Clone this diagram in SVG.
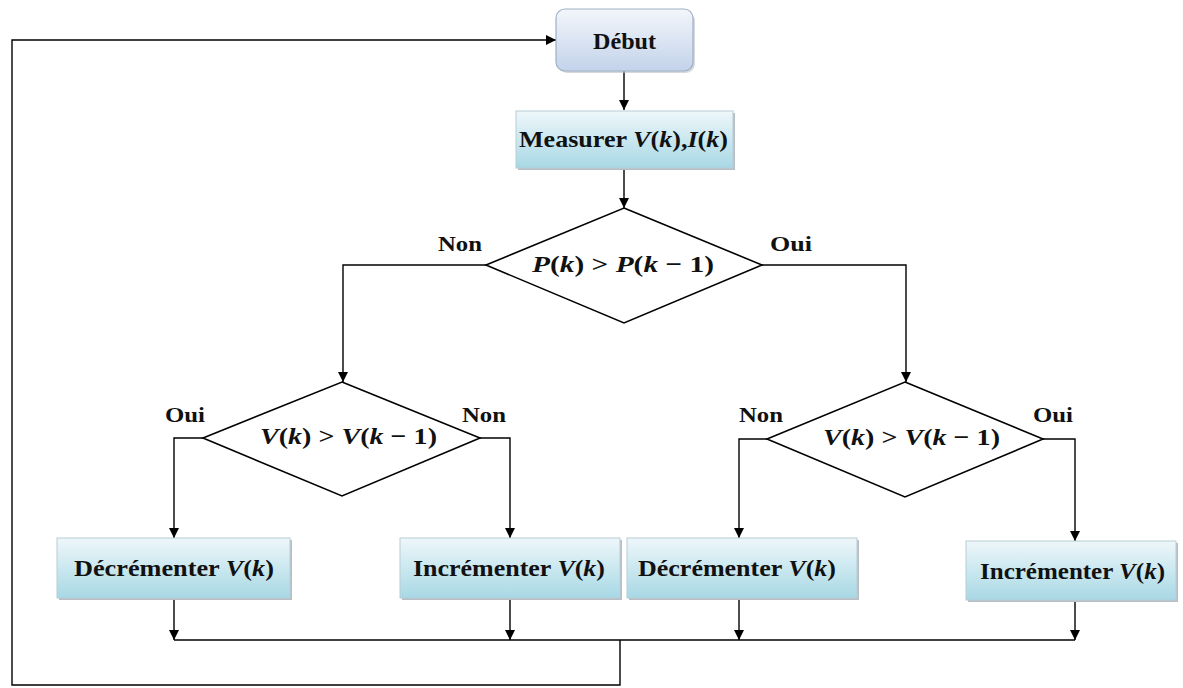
<svg xmlns="http://www.w3.org/2000/svg" width="1183" height="688" viewBox="0 0 1183 688">
  <defs>
    <linearGradient id="gStart" x1="0" y1="0" x2="0" y2="1">
      <stop offset="0" stop-color="#f3f6fb"/>
      <stop offset="1" stop-color="#c3d3ea"/>
    </linearGradient>
    <linearGradient id="gBox" x1="0" y1="0" x2="0" y2="1">
      <stop offset="0" stop-color="#eef7fa"/>
      <stop offset="1" stop-color="#a8d8e5"/>
    </linearGradient>
    <marker id="arrow" viewBox="0 0 10 10" refX="10" refY="5" markerWidth="10" markerHeight="11" markerUnits="userSpaceOnUse" orient="auto">
      <path d="M0,0 L10,5 L0,10 z" fill="#000"/>
    </marker>
  </defs>
  <style>
    text { font-family: 'Liberation Serif', 'DejaVu Serif', serif; font-weight: bold; font-size: 24px; fill: #111; }
    .m { font-style: italic; }
    .lbl { font-size: 21px; }
    .shadow { fill: #b9bec4; }
    .box { fill: url(#gBox); stroke: #b7cdd6; stroke-width: 1; }
    .start { fill: url(#gStart); stroke: #9fb0c6; stroke-width: 1.2; }
    .dia { fill: #fff; stroke: #000; stroke-width: 1.6; }
    .con { fill: none; stroke: #000; stroke-width: 1.4; }
  </style>
  <rect width="1183" height="688" fill="#fff"/>

  <!-- connectors -->
  <g id="connectors">
    <path class="con" d="M624,71 V110" marker-end="url(#arrow)"/>
    <path class="con" d="M624,168 V208" marker-end="url(#arrow)"/>
    <path class="con" d="M486,265 H343 V382" marker-end="url(#arrow)"/>
    <path class="con" d="M762,265 H906 V382" marker-end="url(#arrow)"/>
    <path class="con" d="M203,438 H174 V538" marker-end="url(#arrow)"/>
    <path class="con" d="M480,438 H510 V538" marker-end="url(#arrow)"/>
    <path class="con" d="M767,439 H739 V538" marker-end="url(#arrow)"/>
    <path class="con" d="M1043,439 H1075 V541" marker-end="url(#arrow)"/>
    <path class="con" d="M174,599 V640" marker-end="url(#arrow)"/>
    <path class="con" d="M510,599 V640" marker-end="url(#arrow)"/>
    <path class="con" d="M739,599 V640" marker-end="url(#arrow)"/>
    <path class="con" d="M1075,601 V640" marker-end="url(#arrow)"/>
    <path class="con" d="M174,640 H1075"/>
    <path class="con" d="M620,640 V685 H12 V40 H556" marker-end="url(#arrow)"/>
    <text class="lbl" x="438" y="251" textLength="44" lengthAdjust="spacingAndGlyphs">Non</text>
    <text class="lbl" x="770" y="251" textLength="42" lengthAdjust="spacingAndGlyphs">Oui</text>
    <text class="lbl" x="165" y="422" textLength="40" lengthAdjust="spacingAndGlyphs">Oui</text>
    <text class="lbl" x="462" y="422" textLength="44" lengthAdjust="spacingAndGlyphs">Non</text>
    <text class="lbl" x="739" y="422" textLength="44" lengthAdjust="spacingAndGlyphs">Non</text>
    <text class="lbl" x="1033" y="422" textLength="40" lengthAdjust="spacingAndGlyphs">Oui</text>
  </g>

  <g id="debut">
    <rect class="shadow" x="558" y="12" width="137" height="61" rx="9" opacity="0.6"/>
    <rect class="start" x="556" y="9" width="137" height="62" rx="9"/>
    <text x="593" y="49" textLength="63" lengthAdjust="spacingAndGlyphs">Début</text>
  </g>

  <g id="measurer">
    <rect class="shadow" x="518" y="113" width="217" height="57"/>
    <rect class="box" x="516" y="111" width="217" height="57"/>
    <text x="519" y="147" textLength="209" lengthAdjust="spacingAndGlyphs">Measurer <tspan class="m">V</tspan>(<tspan class="m">k</tspan>),<tspan class="m">I</tspan>(<tspan class="m">k</tspan>)</text>
  </g>

  <g id="test-p">
    <polygon class="dia" points="624,208 762,265 624,323 486,265"/>
    <text x="532" y="272" textLength="182" lengthAdjust="spacingAndGlyphs"><tspan class="m">P</tspan>(<tspan class="m">k</tspan>) &gt; <tspan class="m">P</tspan>(<tspan class="m">k</tspan> − 1)</text>
  </g>

  <g id="test-v-left">
    <polygon class="dia" points="342,382 480,438 342,496 203,438"/>
    <text x="260" y="444" textLength="177" lengthAdjust="spacingAndGlyphs"><tspan class="m">V</tspan>(<tspan class="m">k</tspan>) &gt; <tspan class="m">V</tspan>(<tspan class="m">k</tspan> − 1)</text>
  </g>

  <g id="test-v-right">
    <polygon class="dia" points="905,382 1043,439 905,497 767,439"/>
    <text x="823" y="445" textLength="177" lengthAdjust="spacingAndGlyphs"><tspan class="m">V</tspan>(<tspan class="m">k</tspan>) &gt; <tspan class="m">V</tspan>(<tspan class="m">k</tspan> − 1)</text>
  </g>

  <g id="decrement-left">
    <rect class="shadow" x="59" y="540" width="233" height="60"/>
    <rect class="box" x="57" y="538" width="233" height="60"/>
    <text x="74" y="576" textLength="200" lengthAdjust="spacingAndGlyphs">Décrémenter <tspan class="m">V</tspan>(<tspan class="m">k</tspan>)</text>
  </g>

  <g id="increment-left">
    <rect class="shadow" x="402" y="540" width="220" height="60"/>
    <rect class="box" x="400" y="538" width="220" height="60"/>
    <text x="413" y="576" textLength="192" lengthAdjust="spacingAndGlyphs">Incrémenter <tspan class="m">V</tspan>(<tspan class="m">k</tspan>)</text>
  </g>

  <g id="decrement-right">
    <rect class="shadow" x="629" y="540" width="230" height="60"/>
    <rect class="box" x="627" y="538" width="230" height="60"/>
    <text x="638" y="576" textLength="198" lengthAdjust="spacingAndGlyphs">Décrémenter <tspan class="m">V</tspan>(<tspan class="m">k</tspan>)</text>
  </g>

  <g id="increment-right">
    <rect class="shadow" x="968" y="543" width="210" height="59"/>
    <rect class="box" x="966" y="541" width="210" height="59"/>
    <text x="980" y="579" textLength="185" lengthAdjust="spacingAndGlyphs">Incrémenter <tspan class="m">V</tspan>(<tspan class="m">k</tspan>)</text>
  </g>
</svg>
